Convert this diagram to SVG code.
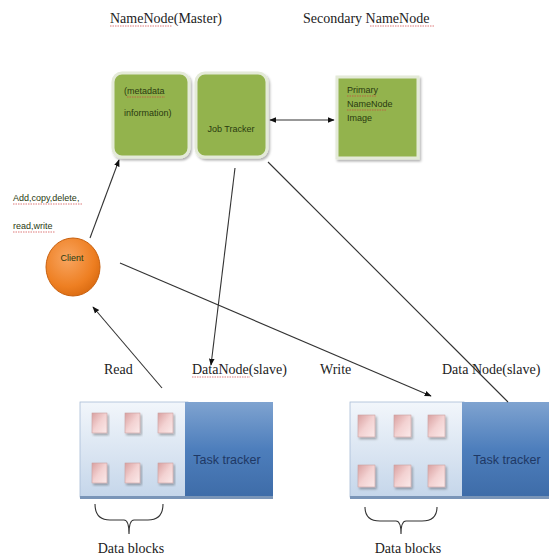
<svg xmlns="http://www.w3.org/2000/svg" width="549" height="559" viewBox="0 0 549 559">
<defs>
<style>
.serif{font-family:"Liberation Serif","Times New Roman",serif;font-size:14px;fill:#222}
.small{font-family:"Liberation Sans",Arial,sans-serif;font-size:9px;fill:#2a3a10}
.tt{font-family:"Liberation Sans",Arial,sans-serif;font-size:12.5px;fill:#1f3864}
.green{fill:#93b34e;stroke:#e4ead8;stroke-width:3}
.line{stroke:#333;stroke-width:1.1;fill:none}
.blk{fill:url(#pink);stroke:#c9a0a0;stroke-width:0.6}
.wavy{stroke:#d04040;stroke-width:0.7;fill:none;stroke-dasharray:1.5 1}
</style>
<marker id="ah" viewBox="0 0 10 10" refX="9" refY="5" markerWidth="7" markerHeight="7" orient="auto-start-reverse" markerUnits="userSpaceOnUse">
<path d="M0,1 L10,5 L0,9 z" fill="#111"/>
</marker>
<radialGradient id="orange" cx="0.4" cy="0.35" r="0.7">
<stop offset="0" stop-color="#f8a560"/>
<stop offset="0.7" stop-color="#ee7f22"/>
<stop offset="1" stop-color="#d96a10"/>
</radialGradient>
<linearGradient id="light" x1="0" y1="0" x2="0" y2="1">
<stop offset="0" stop-color="#f2f6fb"/>
<stop offset="1" stop-color="#c5d6ea"/>
</linearGradient>
<linearGradient id="blue" x1="0" y1="0" x2="0" y2="1">
<stop offset="0" stop-color="#7fa3d0"/>
<stop offset="0.5" stop-color="#4d7ebc"/>
<stop offset="1" stop-color="#3e6ca8"/>
</linearGradient>
<linearGradient id="pink" x1="0" y1="0" x2="1" y2="1">
<stop offset="0" stop-color="#d9a0a0"/>
<stop offset="0.5" stop-color="#f3d2d2"/>
<stop offset="1" stop-color="#fbeaea"/>
</linearGradient>
<filter id="sh" x="-10%" y="-10%" width="130%" height="130%">
<feDropShadow dx="1.5" dy="2" stdDeviation="1.2" flood-color="#000" flood-opacity="0.3"/>
</filter>
</defs>
<rect width="549" height="559" fill="#fff"/>

<g id="titles">
<text class="serif" x="110" y="23">NameNode(Master)</text>
<path class="wavy" d="M110,26 h62"/>
<text class="serif" x="303" y="23">Secondary NameNode</text>
<path class="wavy" d="M370,26 h64"/>
</g>

<g id="metadata">
<rect class="green" x="113" y="73" width="76" height="84" rx="9" filter="url(#sh)"/>
<text class="small" x="124" y="94">(metadata</text>
<path class="wavy" d="M127,97 h38"/>
<text class="small" x="124" y="116">information)</text>
</g>

<g id="jobtracker">
<rect class="green" x="196" y="73" width="71" height="84" rx="9" filter="url(#sh)"/>
<text class="small" x="231" y="132" text-anchor="middle">Job Tracker</text>
</g>

<g id="secondary">
<rect class="green" x="337" y="77" width="81" height="81" filter="url(#sh)"/>
<text class="small" x="347" y="93">Primary</text>
<path class="wavy" d="M347,96 h30"/>
<text class="small" x="347" y="107">NameNode</text>
<path class="wavy" d="M347,110 h40"/>
<text class="small" x="347" y="121">Image</text>
</g>

<g id="client">
<ellipse cx="73" cy="267" rx="27" ry="29" fill="url(#orange)" stroke="#c8600e" stroke-width="1"/>
<text class="small" x="72" y="261" text-anchor="middle" fill="#3a2000">Client</text>
</g>

<g id="ops">
<text class="small" x="13" y="201" fill="#222">Add,copy,delete,</text>
<path class="wavy" d="M13,204 h70"/>
<text class="small" x="13" y="229" fill="#222">read,write</text>
<path class="wavy" d="M13,232 h42"/>
</g>

<g id="labels">
<text class="serif" x="104" y="374">Read</text>
<text class="serif" x="192" y="374">DataNode(slave)</text>
<path class="wavy" d="M192,377 h58"/>
<text class="serif" x="320" y="374">Write</text>
<text class="serif" x="442" y="374">Data Node(slave)</text>
</g>

<g id="datanode1">
<rect x="80" y="402" width="108" height="95" fill="url(#light)" stroke="#a9bcd6" stroke-width="0.8"/>
<rect x="185" y="402" width="88" height="95" fill="url(#blue)"/>
<rect x="80" y="496" width="193" height="3" fill="#7a95b8"/>
<rect class="blk" x="92" y="413" width="15" height="20" filter="url(#sh)"/>
<rect class="blk" x="125" y="413" width="15" height="20" filter="url(#sh)"/>
<rect class="blk" x="158" y="413" width="15" height="20" filter="url(#sh)"/>
<rect class="blk" x="92" y="463" width="15" height="20" filter="url(#sh)"/>
<rect class="blk" x="125" y="463" width="15" height="20" filter="url(#sh)"/>
<rect class="blk" x="158" y="463" width="15" height="20" filter="url(#sh)"/>
<text class="tt" x="227" y="464" text-anchor="middle">Task tracker</text>
</g>

<g id="datanode2">
<rect x="350" y="402" width="114" height="95" fill="url(#light)" stroke="#a9bcd6" stroke-width="0.8"/>
<rect x="462" y="402" width="87" height="95" fill="url(#blue)"/>
<rect x="350" y="496" width="199" height="3" fill="#7a95b8"/>
<rect class="blk" x="358" y="415" width="17" height="22" filter="url(#sh)"/>
<rect class="blk" x="394" y="415" width="17" height="22" filter="url(#sh)"/>
<rect class="blk" x="428" y="415" width="17" height="22" filter="url(#sh)"/>
<rect class="blk" x="358" y="465" width="17" height="22" filter="url(#sh)"/>
<rect class="blk" x="394" y="465" width="17" height="22" filter="url(#sh)"/>
<rect class="blk" x="428" y="465" width="17" height="22" filter="url(#sh)"/>
<text class="tt" x="507" y="464" text-anchor="middle">Task tracker</text>
</g>

<g id="braces">
<path class="line" d="M95,504 Q95,520 110,520 H124 Q129,520 129,534 Q129,520 134,520 H148 Q163,520 163,504"/>
<text class="serif" x="131" y="553" text-anchor="middle">Data blocks</text>
<path class="line" d="M365,507 Q365,521 380,521 H396 Q401,521 401,534 Q401,521 406,521 H422 Q437,521 437,507"/>
<text class="serif" x="408" y="553" text-anchor="middle">Data blocks</text>
</g>

<g id="connectors">
<line class="line" x1="90" y1="238" x2="119" y2="160" marker-end="url(#ah)"/>
<line class="line" x1="270" y1="120" x2="334" y2="120" marker-start="url(#ah)" marker-end="url(#ah)"/>
<line class="line" x1="235" y1="168" x2="211" y2="365" marker-end="url(#ah)"/>
<line class="line" x1="120" y1="263" x2="431" y2="396" marker-end="url(#ah)"/>
<line class="line" x1="268" y1="162" x2="508" y2="402"/>
<line class="line" x1="162" y1="388" x2="93" y2="307" marker-end="url(#ah)"/>
</g>
</svg>
